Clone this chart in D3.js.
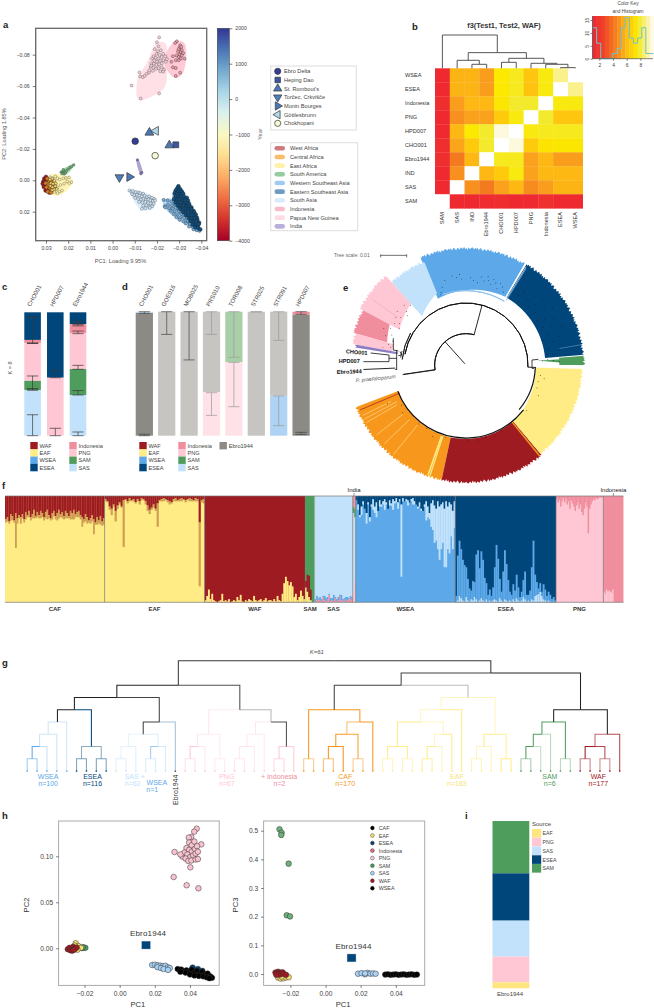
<!DOCTYPE html>
<html lang="en">
<head>
<meta charset="UTF-8">
<title>Ebro1944 population genomics</title>
<script src="https://d3js.org/d3.v7.min.js"></script>
<style>
  body { margin: 0; background: #fff; }
  svg { display: block; }
  text { font-family: "Liberation Sans", Arial, sans-serif; fill: #333; }
  .tick text { fill: #444; }
  .letter { font-weight: bold; font-size: 9.5px; fill: #222; }
</style>
</head>
<body>
<div id="chart"></div>
<script>
// palette
const WAF = "#9e1b22", CAF = "#f7981d", EAF = "#ffec85", SAM = "#4f9d5d", WSEA = "#5ca8e8",
      ESEA = "#00467a", SAS = "#c2e2fb", PNG = "#ffc6d3", INDO = "#f08e9e", IND = "#8e7cc3", EBRO = "#8c8a84", KK = "#222";

// ---- panel a data: [PC1, PC2]
const aPNG = [[-.021,-.091],[-.020,-.088],[-.0207,-.0853],[-.0086,-.0604],[-.0127,-.0521],[-.021,-.0553],[-.0121,-.0687],[-.0124,-.0662],[-.0136,-.0657],[-.0145,-.0666],[-.0154,-.0679],[-.0165,-.0687],[-.019,-.0835],[-.0205,-.0822],[-.0218,-.0828],[-.0198,-.0805],[-.0212,-.0798],[-.0228,-.0805],[-.0185,-.079],[-.0195,-.078],[-.0207,-.0775],[-.0222,-.0785],[-.0238,-.079],[-.0245,-.0772],[-.0178,-.0775],[-.0188,-.0762],[-.02,-.0755],[-.0214,-.076],[-.0228,-.0765],[-.024,-.0755],[-.0175,-.0745],[-.0186,-.0742],[-.0198,-.0735],[-.021,-.074],[-.0222,-.0745],[-.0172,-.0722],[-.0185,-.0718],[-.0197,-.071],[-.0208,-.0715],[-.0222,-.072],[-.0232,-.0705],[-.0165,-.07],[-.0182,-.0697],[-.0215,-.0695],[-.0228,-.0692],[-.0175,-.073]];
const aIndo = [[-.029,-.0885],[-.0282,-.0875],[-.0305,-.086],[-.0302,-.0845],[-.031,-.085],[-.0298,-.0835],[-.0312,-.083],[-.0305,-.0815],[-.0295,-.082],[-.0318,-.081],[-.0302,-.08],[-.0312,-.0795],[-.0325,-.0775],[-.0298,-.0785],[-.0288,-.0795],[-.0272,-.079],[-.0308,-.0775],[-.0285,-.0765],[-.0298,-.0765],[-.0285,-.0715],[-.0272,-.072],[-.0305,-.0685],[-.0285,-.0665],[-.0265,-.0755]];
const aSAS = [[-.0076,.0065],[-.0085,.0072],[-.0092,.0068],[-.0105,.0075],[-.0118,.0078],[-.0125,.0082],[-.0138,.0085],[-.0088,.0088],[-.0098,.0095],[-.011,.0092],[-.012,.0098],[-.0132,.0102],[-.0145,.0098],[-.0155,.0108],[-.0165,.0102],[-.0178,.0112],[-.0188,.0118],[-.0102,.0112],[-.0115,.0118],[-.0128,.0122],[-.014,.0118],[-.015,.0125],[-.0162,.0122],[-.0172,.0128],[-.0182,.0132],[-.0192,.0128],[-.012,.0138],[-.0135,.0142],[-.0148,.0138],[-.016,.0145],[-.0172,.0148],[-.0185,.015],[-.0138,.0162],[-.0152,.016],[-.0165,.0168],[-.0178,.0165],[-.0132,.0182],[-.0148,.0178],[-.0168,.0175]];
const aWSEA = [[-.023,.0125],[-.0248,.0128],[-.0265,.0135],[-.0235,.0165],[-.025,.0155],[-.0268,.016],[-.0285,.0148],[-.0238,.0172],[-.0255,.0178],[-.027,.018],[-.0285,.0175],[-.0262,.0195],[-.028,.02],[-.0298,.0195],[-.0275,.0215],[-.0292,.022],[-.031,.0215],[-.0288,.0235],[-.0305,.024],[-.0322,.0238],[-.0302,.0252],[-.032,.0262],[-.0338,.0258],[-.033,.0275],[-.0348,.0278],[-.0345,.0295],[-.0362,.0298],[-.038,.0318],[-.0392,.0322],[-.0365,.0312]];
const aESEA = [[-.0297,.0038],[-.0292,.0052],[-.0305,.0058],[-.0285,.0065],[-.0298,.007],[-.0312,.0072],[-.028,.0082],[-.0292,.0085],[-.0305,.0088],[-.0318,.0085],[-.0285,.0102],[-.0298,.0105],[-.031,.0102],[-.0322,.0108],[-.0335,.0112],[-.0278,.012],[-.029,.0125],[-.0302,.012],[-.0315,.0128],[-.0328,.0125],[-.034,.013],[-.0285,.0142],[-.0298,.0145],[-.031,.0142],[-.0322,.0148],[-.0335,.0145],[-.0345,.015],[-.0295,.0162],[-.0308,.0165],[-.032,.016],[-.0332,.0168],[-.0345,.0165],[-.0355,.0172],[-.0305,.0182],[-.0318,.0185],[-.033,.018],[-.0342,.0188],[-.0355,.0185],[-.0365,.0195],[-.0318,.0202],[-.033,.0205],[-.0342,.02],[-.0355,.0208],[-.0368,.0205],[-.0375,.0218],[-.0332,.0222],[-.0345,.0225],[-.0358,.022],[-.037,.0228],[-.038,.0238],[-.0345,.0242],[-.0358,.0245],[-.037,.0242],[-.0382,.025],[-.0352,.026],[-.0365,.0265],[-.0378,.026],[-.039,.027],[-.0362,.0282],[-.0375,.0285],[-.0388,.028],[-.0372,.0298],[-.0385,.0302],[-.0395,.0312]];
const aEAF = [[.0282,-.002],[.027,-.001],[.0258,-.0025],[.0248,-.0012],[.0238,-.0005],[.0222,-.0012],[.021,-.0015],[.0196,-.0018],[.0186,.0012],[.0205,.0008],[.0218,.0022],[.0195,.0018],[.0235,.003],[.0248,.0045],[.026,.0042],[.0272,.0058],[.0238,.0072],[.0248,.0082],[.0228,.0065],[.0262,.0075]];
const aCAF = [[.0295,-.001],[.0285,.0008],[.0302,.0018],[.0288,.0032],[.0275,.0012],[.0298,.0045],[.0282,.0052],[.0268,.0035],[.0275,.0062],[.0262,.005],[.0292,.0072],[.0278,.0078]];
const aWAF = [[.0308,-.001],[.0312,.0008],[.03,-.0022],[.0308,.0028],[.0315,.0022],[.03,.0048],[.031,.0042],[.0302,.0065],[.0295,.0058],[.0285,.0078],[.0305,.0012],[.0296,-.0005]];
const aYel = [[.0282,-.0005],[.0272,-.0012],[.0262,.0004],[.0278,.0018],[.0268,.0022],[.0256,.002],[.028,.0036],[.027,.0044],[.0258,.0038],[.0272,.0062],[.0262,.0058],[.0252,.0055]];
const aSAMp = [[.0232,-.0052],[.0222,-.0058],[.0215,-.0052],[.0228,-.0042],[.0218,-.004],[.0208,-.0062],[.0222,-.0068],[.02,-.0072],[.0192,-.0082],[.0185,-.0088],[.0175,-.0098],[.0212,-.0048]];
const aIndia = [[-.0112,-.013],[-.0132,-.005],[-.0127,-.0042]];
const aHulls = [
  { c: PNG, o: .55, p: [[-.0117,-.0513],[-.0112,-.064],[-.0154,-.0747],[-.0199,-.0874],[-.0237,-.0874],[-.0244,-.0726],[-.0237,-.0598],[-.0192,-.0545]] },
  { c: PNG, o: .95, p: [[-.0237,-.0789],[-.0282,-.0885],[-.0323,-.0874],[-.0332,-.0779],[-.0312,-.0672],[-.0282,-.0651],[-.0241,-.0715]] },
  { c: SAS, o: .6, p: [[-.0076,.0062],[-.0192,.0115],[-.0184,.0179],[-.0132,.0189],[-.0086,.0104]] },
  { c: "#a9d2f5", o: .9, p: [[-.0229,.0126],[-.0289,.0126],[-.038,.0296],[-.035,.0296],[-.0237,.0179]] },
  { c: "#3f7fb0", o: .7, p: [[-.0297,.003],[-.0335,.0104],[-.0395,.0296],[-.038,.0328],[-.0327,.0253],[-.0271,.0147],[-.0277,.0062]] },
  { c: EAF, o: .6, p: [[.0282,-.0034],[.0184,-.0013],[.018,.0019],[.0237,.0094],[.0282,.0083]] },
  { c: "#a5d6ab", o: .9, p: [[.0232,-.0062],[.0174,-.0102],[.0174,-.0091],[.0214,-.0034]] },
  { c: IND, o: .7, p: [[-.0108,-.0135],[-.0116,-.0135],[-.0135,-.004],[-.0125,-.004]] }
];
const aSamples = ["Ebro Delta","Heping Dao","St. Rombout's","Torčec, Crkvišče","Monin Bourges","Göttlesbrunn","Chokhopani"];
const aSampleXY = [[[-.0102,-.0249]],[[-.0285,-.0226]],[[-.0166,-.0304],[-.0256,-.0223]],[[-.0031,-.0019]],[[-.0076,-.0021]],[[-.0195,-.0315]],[[-.0192,-.0157]]];
const aSampleYear = [1944,1700,1350,1300,1350,150,-800];
const aSampleSym = ["circle","square","up","down","right","left","circle"];
const aRegions = ["West Africa","Central Africa","East Africa","South America","Western Southeast Asia","Eastern Southeast Asia","South Asia","Indonesia","Papua New Guinea","India"];
const aRegionCol = ["#cf7a80","#fbbd6c","#fff2a8","#97cca0","#a0cbf1","#6e9cc0","#d9ecfc","#f9bcc8","#ffdbe4","#baaedb"];

// ---- panel b data
const bCols = ["SAM","SAS","IND","Ebro1944","CHO001","HPD007","PNG","Indonesia","ESEA","WSEA"];
const bRows = ["WSEA","ESEA","Indonesia","PNG","HPD007","CHO001","Ebro1944","IND","SAS","SAM"];
const bVals = [
  [1.3,5.7,5.7,5.2,7.5,7.7,6.3,7.6,8.8,null],
  [1.3,5.7,5.7,5.2,7.5,7.7,6.2,7.6,null,8.8],
  [1.5,5.2,5.8,5.8,7.4,7.8,7.8,null,7.6,7.6],
  [1.3,4.8,5.3,5.3,6.5,7.6,null,7.8,6.3,6.3],
  [1.3,5.8,7.5,7.8,9.6,null,7.6,7.7,7.7,7.7],
  [1.5,5.4,6.5,7.8,null,9.6,6.5,7.3,7.4,7.4],
  [1.5,4.2,5.8,null,7.7,7.7,5.3,5.8,5.2,5.2],
  [1.3,4.8,null,5.8,6.5,7.6,5.3,5.8,5.8,5.8],
  [1.3,null,4.8,4.2,5.3,5.8,4.7,5.2,5.7,5.7],
  [null,1.2,1.2,1.4,1.5,1.3,1.3,1.6,1.3,1.3]
];
const bTree = [100,0,[47,[24,1,[12,2,3]],[30,[18,4,5],[15,6,[12,7,[2,8,9]]]]]];
const keyBreaks = [1,1.6,2.2,2.8,3.4,4,4.6,5.2,5.8,6.4,7,7.6,8.2,8.8,9.4,9.9];
const keyHist = [[1,12],[1.6,6],[2.2,0],[3.8,0],[3.9,2],[4.6,4],[5.2,12],[5.8,16],[6.4,8],[7,6],[7.6,8],[8.2,12],[8.8,2],[9.9,2]];

// ---- panels c, d data: fractions from top of the bar
const cBars = ["CHO001","HPD007","Ebro1944"];
const cSegs = [
  [[ESEA,.224],[INDO,.027],[PNG,.305],[SAM,.076],[SAS,.368]],
  [[ESEA,.53],[PNG,.47]],
  [[ESEA,.095],[INDO,.073],[PNG,.292],[SAM,.21],[SAS,.33]]
];
const cErr = [
  [[.04,.25],[.25,.253],[.516,.62],[.62,.632],[.83,1]],
  [[.47,.53],[.94,1]],
  [[.073,.095],[.095,.11],[.152,.173],[.43,.462],[.634,.67],[.97,1]]
];
const dBars = ["CHO001","GOE016","MOB025","PRS010","TOR008","STR025","STR091","HPD007"];
const dSegs = [
  [[SAS,.01],[EBRO,.99]],
  [["#c6c5c2",1]],
  [["#c6c5c2",1]],
  [["#c6c5c2",.648],["#ffe1e8",.352]],
  [["#a9cfa9",.406],["#ffe1e8",.594]],
  [["#c6c5c2",1]],
  [["#c6c5c2",.678],["#aed3f4",.322]],
  [[INDO,.024],[EBRO,.976]]
];
const dErr = [
  [[0,.013],[.988,1]],
  [[0,.183]],
  [[0,.389]],
  [[0,.183],[.653,.836]],
  [[0,.368],[.409,.766]],
  [[0,.002]],
  [[0,.231],[.679,.919]],
  [[0,.021],[.973,.99]]
];
const cLeg = [["WAF",WAF],["EAF",EAF],["WSEA",WSEA],["ESEA",ESEA]];
const cLeg2 = [["Indonesia",INDO],["PNG",PNG],["SAM",SAM],["SAS",SAS]];

// ---- panel e data: angles clockwise from top, radii in tree units
const eWedges = [
  { c: CAF, a: [192,249], i: [222,218], o: 352 },
  { c: WAF, a: [140,192], i: [220,222], o: 352 },
  { c: EAF, a: [92,140], i: [208,220], o: 348 },
  { c: SAM, a: [85.5,90], i: [280,280], o: 354 },
  { c: SAM, a: [86.5,88.5], i: [212,280], o: 282 },
  { c: ESEA, a: [31,85], i: [236,238], o: 352 },
  { c: WSEA, a: [-23,30], i: [216,236], o: 350 },
  { c: SAS, a: [-42,-22], i: [197,232], o: 334 },
  { c: PNG, a: [-62,-42], i: [226,247], o: 360 },
  { c: INDO, a: [-74,-62], i: [246,259], o: 350 },
  { c: PNG, a: [-79.5,-74], i: [226,226], o: 345 },
  { c: IND, a: [-81,-79.5], i: [208,208], o: 335 }
];
const eJag = [3,-4,5,-1,6,-6,2,7,-3,-7,4,0,-5,6,1,-2,8,-5,3,-8,5,-3,0,6];
const eStreaks = [
  { c: "#ffd98c", a: 244, r: [250,345] },{ c: "#ffd98c", a: 242, r: [235,345] },{ c: "#ffd98c", a: 240, r: [240,345] },
  { c: "#ffd98c", a: 232, r: [240,340] },{ c: "#ffd98c", a: 226, r: [235,340] },{ c: "#ffd98c", a: 219, r: [230,345] },
  { c: EAF, a: 199, r: [225,350], w: 1.6 },{ c: EAF, a: 198, r: [225,355], w: 1.2 },
  { c: WAF, a: 247, r: [215,345] },
  { c: CAF, a: 141, r: [220,352], w: 1.4 },{ c: "#c45a25", a: 140.5, r: [220,342] },
  { c: "#5b8db3", a: 80, r: [285,352] },{ c: "#fff", a: 31.5, r: [226,345] },{ c: WSEA, a: 32, r: [228,340] },
  { c: "#f4a7b5", a: -55, r: [250,345] }
];
const eDots = [
  [-14,262],[-9,270],[-6,264],[-3,258],[-4,272],[3,262],[5,255],[8,249],[10,268],[12,258],[14,274],[15,262],[17,252],[18,270],[20,262],[22,248],[23,266],[25,258],[27,246],[-17,244],[-19,230],[-20,224],
  [34,240],[37,262],[39,280],[40,248],[43,268],[45,292],[47,256],[49,276],[50,300],[52,242],[53,262],[55,286],[57,310],[58,250],[60,272],[62,296],[64,256],[66,282],[68,308],[70,264],[72,240],[73,290],[75,270],[77,306],[79,252],[81,284],[83,262],[84,300],
  [88,280],[87,262],[86,246],[87,230],[98,225],[100,238],[103,222],[108,224],[113,236],[127,228],
  [152,224],[158,230],[165,225],[171,232],[178,228],[186,222],[196,226],[205,236],[212,224],[219,228],[233,238],[238,228],[244,262],
  [-43,245],[-46,258],[-48,240],[-50,230],[-52,262],[-54,242],[-56,254],[-58,235],[-60,248],[-61,228],[-64,252],[-66,270],[-68,240],[-70,256],[-72,232],[-75,240],[-77,232],[-78,255]
];
const eArcs = [[94,-99,15,1],[186,-80,92,1],[192,-85,-60,.8],[208,92,130,1.2],[219,128,249,1.2]];
const eRadials = [[-42,5,95],[15,93,186],[-98.5,93,190],[92,186,210],[-92.5,213,308]];
const eLines = [[122,384,177,390],[100,410,177,410],[177,390,177,410],[177,400,200,400],[200,375,200,435],[195,433,200,433],[190,340,190,375],[190,375,205,378],[210,380,215,390],[215,390,205,392],[212,398,216,378],[606,405,606,430],[606,430,612,430],[606,405,625,403]];

// ---- panel f data: depth of each layer per individual, as a fraction of the bar
const fBounds = [12,250,489,729,752,843,850,1088,1329,1442,1490];
const fCafRed = [.22,.2,.24,.17,.19,.23,.16,.21,.18,.2,.17,.22,.15,.18,.14,.2,.17,.13,.19,.15,.18,.14,.16,.2,.15,.13,.18,.21,.16,.14,.19,.16,.13,.17,.15,.19,.14,.16,.19,.14,.16,.13,.17,.15,.14,.18,.2,.22,.17,.2,.23,.21,.18,.22,.25,.2,.23,.19,.24,.21];
const fCafTan = [.03,.04,.02,.06,.04,.02,.33,.05,.03,.06,.04,.03,.07,.02,.06,.03,.04,.08,.02,.05,.03,.07,.04,.03,.06,.09,.03,.02,.06,.05,.03,.07,.08,.03,.06,.03,.07,.05,.02,.08,.06,.09,.03,.05,.06,.04,.09,.03,.07,.06,.02,.05,.06,.14,.02,.07,.03,.08,.04,.06];
const fEafRed = [.03,.05,.1,.12,.08,.14,.09,.06,.1,.04,.03,.05,.02,.04,.03,.06,.03,.05,.02,.03,.05,.09,.13,.11,.08,.12,.07,.04,.03,.02,.03,.04,.05,.06,.03,.02,.04,.03,.02,.03,.04,.03,.02,.03,.04,.02,.03,.25,.04,.03];
const fEafTan = [.02,.01,.03,.06,.02,.1,.03,.02,.01,.44,.01,.02,.03,.01,.02,.01,.02,.03,.02,.01,.03,.05,.04,.02,.03,.02,.22,.01,.02,.03,.01,.02,.03,.01,.02,.03,.01,.02,.03,.01,.02,.01,.03,.02,.01,.03,.02,.6,.02,.04];
const fWafYel = [.02,.06,.12,.03,.08,.02,.01,0,.01,.02,.08,.01,.02,.01,.03,0,.01,.02,.01,.05,.02,.07,.01,0,.02,.01,.03,.02,.01,.06,.02,.01,.02,.03,.01,.02,.04,.01,.02,.02,.01,.03,.01,.06,.02,.01,.08,.18,.24,.2,.16,.19,.15,.05,.08,.02,.05,.11,.06,.03];
const fSamYel = [.14,.1,.05,.02,0,0];
const fSamRed = [.06,.16,.2,.1,0,0];
const fSasPink = [.01,.02,.03,.02,.01,.05,.02,.01,.03,.07,.01,.02,.01,.04,.01,.02,.06,.02,.01,.03,.01,.02,.03,.04,.02];
const fSasBlue = [.02,.04,.01,.03,.02,.01,.04,.03,.02,.01,.03,.02,.06,.01,.02,.03,.01,.05,.02,.01,.04,.03,.01,.02,.03];
const fWseaNavy = [.04,.08,.18,.1,.05,.12,.16,.06,.2,.08,.03,.1,.06,.14,.04,.08,.05,.03,.06,.12,.04,.07,.03,.05,.02,.06,.03,.08,.02,.05,.03,.04,.06,.03,.02,.05,.08,.1,.06,.12,.14,.08,.05,.1,.16,.07,.04,.09,.12,.05,.1,.08,.06,.12,.05,.1,.06,.08,.14,.05];
const fWseaLite = [0,.05,.02,.08,.03,0,.1,.02,.04,.02,.1,.06,.14,0,.06,.02,.03,.1,.02,0,.05,.02,.1,.02,.04,.06,.02,.68,.03,0,.02,.05,0,.02,.06,.03,0,.02,.04,.02,0,.02,.18,.1,.06,.22,.28,.35,.3,.45,.5,.42,.38,.55,.62,.4,.48,.3,.36,.25];
const fEseaBlue = [.05,.42,.52,.46,.38,.34,.28,.2,.12,.08,.18,.14,.42,.48,.3,.44,.38,.22,.15,.06,.1,.05,.12,.3,.52,.4,.18,.08,.28,.46,.34,.2,.08,.06,.14,.1,.22,.12,.04,.08,.16,.26,.06,.05,.1,.3,.56,.2,.12,.05,.08,.04,.14,.1,.05,.08,.06,.03,.04,.02];
const fEseaLite = [.01,.02,.06,.04,.02,.01,.05,.02,.01,.03,.02,.05,.03,.01,.02,.04,.02,.01,.03,.01,.02,.01,.02,.03,.02,.01,.04,.02,.01,.03,.02,.01,.02,.01,.03,.01,.04,.02,.01,.02,.05,.03,.01,.02,.01,.03,.02,.06,.07,.08,.1,.06,.03,.02,.01,.02,.01,0,.01,0];
const fPngTop = [.03,.06,.04,.1,.05,.02,.06,.03,.08,.05,.12,.04,.07,.1,.14,.09,.06,.12,.08,.15,.18,.12,.06,.1,.35,.12,.08,.05,.03,.04,.02,.03,.02,.01,.02,.01];
const fIndoLow = [.1,.08,.12,.1,.11,.1,.09,.12,0,0,0,0,0,0,0,0];

// ---- panel g data: [level, stem colour, stem opacity, left, right, leaf stem colour, leaf stem opacity]; leaves are indices
const gTree = [9,KK,0,
  [7,KK,.9,
    [6,KK,1,
      [5,KK,1,
        [4,KK,1,[3,WSEA,.3,[2,WSEA,.3,[1,WSEA,1,0,1,WSEA,.6],2,WSEA,.35],3,WSEA,.3],4,WSEA,.3],
        [2,ESEA,1,[1,ESEA,.45,5,6,ESEA,.5],[1,ESEA,.45,7,8,ESEA,.5]]],
      [4,KK,.85,
        [3,KK,.85,[2,SAS,.4,[1,SAS,.45,9,10,SAS,.5],11,SAS,.5],[2,SAS,.6,[1,WSEA,.6,12,13,SAS,.6],14,SAS,.7]],
        15,"#8fb0cc",.8]],
    [5,KK,.8,
      [3,PNG,.4,[2,PNG,.4,[1,PNG,1,16,17,PNG,.5],18,PNG,.4],[1,PNG,.35,19,20,PNG,.35]],
      [4,"#999",.7,[3,PNG,.4,[2,PNG,.4,[1,PNG,.4,21,22,PNG,.4],23,PNG,.4],24,PNG,.4],[2,KK,.8,[1,PNG,1,25,26,PNG,.7],27,PNG,.9]]]],
  [8,KK,.9,
    [7,KK,.85,
      [5,KK,.85,[1,CAF,1,28,29,CAF,.5],[4,CAF,1,[3,CAF,.65,[2,CAF,1,[1,CAF,1,30,31,CAF,.6],32,CAF,1],[1,CAF,.9,33,34,CAF,.5]],35,CAF,1]],
      [6,"#aaa",.8,
        [5,EAF,.5,
          [4,EAF,.5,[2,EAF,.95,[1,EAF,.95,36,37,EAF,.5],[1,EAF,.95,38,39,EAF,.5]],[3,EAF,.5,[2,EAF,.5,[1,EAF,1,40,41,EAF,.8],42,EAF,.5],43,EAF,.95]],
          44,EAF,.95],
        [3,EAF,.5,[2,EAF,.95,[1,EAF,.55,45,46,EAF,.55],47,EAF,.55],[1,EAF,.85,48,49,EAF,.95]]]],
    [5,KK,1,
      [4,KK,1,[3,SAM,1,[2,SAM,1,[1,SAM,1,50,51,SAM,.5],52,SAM,.35],53,SAM,.4],[1,SAM,1,54,55,SAM,.4]],
      [3,KK,1,[2,WAF,.65,[1,WAF,1,56,57,WAF,.55],[1,WAF,.8,58,59,WAF,.5]],60,WAF,.8]]]];
const gLabels = [
  ["WSEA",115,410,WSEA],["n=100",115,430,WSEA],["ESEA",221,410,ESEA],["n=116",221,430,ESEA],
  ["SAS +",322,410,SAS],["n=62",317,430,SAS],["WSEA",375,428,WSEA],["n=1",364,449,WSEA],
  ["PNG",542,410,PNG],["n=67",542,430,PNG],["+ Indonesia",667,410,INDO],["n=2",668,430,INDO],
  ["CAF",825,410,CAF],["n=170",825,430,CAF],["EAF",1092,410,"#f7e37a"],["n=183",1092,430,"#f7e37a"],
  ["SAM",1314,410,SAM],["n=6",1314,430,SAM],["WAF",1430,410,WAF],["n=177",1430,430,WAF]
];

// ---- panel h data: [PC1, PC2 or PC3]
const hPNG = [[.0438,.130],[.0424,.1268],[.0407,.121],[.0393,.1203],[.0464,.113],[.0312,.1047],[.0357,.0996],[.0307,.0775],[.0381,.0685],[.0448,.0652],[.0402,.088],[.0395,.115],[.041,.112],[.0425,.116],[.038,.109],[.0395,.107],[.041,.105],[.0428,.108],[.044,.111],[.0368,.104],[.0385,.102],[.04,.099],[.0418,.101],[.0432,.103],[.0445,.105],[.0375,.0975],[.039,.095],[.0408,.0955],[.0432,.0965],[.0445,.097],[.0345,.102]];
const hWSEA = [[.033,-.0225],[.035,-.023],[.0365,-.025],[.038,-.024],[.0395,-.0255],[.041,-.023],[.0425,-.0265],[.044,-.0245],[.0455,-.027],[.047,-.0255],[.0485,-.0285],[.05,-.0275],[.0515,-.0305],[.0525,-.032],[.0375,-.0265],[.04,-.0285],[.0425,-.0295],[.045,-.03],[.0475,-.0305],[.0495,-.0315],[.051,-.0325],[.0345,-.0255]];
const hESEA = [[.0415,-.021],[.0445,-.0225],[.047,-.0245]];
const hSAS = [[.0185,-.0182],[.02,-.0178],[.0215,-.0185],[.023,-.0188],[.0245,-.0195],[.026,-.019],[.0275,-.0208],[.0285,-.0215],[.0215,-.0205],[.0235,-.0215],[.025,-.0225],[.0275,-.0235]];
const hWAF = [[-.0295,-.001],[-.0285,.0005],[-.0275,-.0012],[-.0265,.0015],[-.0255,-.0005],[-.028,-.0022],[-.027,-.0025],[-.0245,.0008],[-.0262,-.0018]];
const hEAFp = [[-.025,.0055],[-.0235,.0025],[-.022,.0005],[-.0255,.003],[-.024,-.0015]];
const hSAMp = [[-.0205,.0008],[-.0215,.0002],[-.0195,.0005],[-.021,.0012]];
const p3SAM = [[-.0262,.505],[-.025,.493],[-.0252,.485],[-.021,.385],[-.0221,.205],[-.0202,.201]];
const p3SAS = [[.0185,.001],[.0205,.003],[.0225,-.001],[.024,.004],[.0255,.001],[.027,.002],[.0285,.001],[.0225,.002]];
const p3WSEA = [[.034,-.002],[.0355,-.001],[.037,-.003],[.0385,-.002],[.04,-.001],[.0415,-.003],[.043,-.002],[.0445,-.001],[.046,-.003],[.0475,-.002],[.049,-.001],[.0505,-.003],[.052,-.002]];
const p3WAF = [[-.0285,.005],[-.027,.008],[-.0255,.004],[-.0245,.006],[-.0275,.001],[-.026,-.002],[-.024,.001],[-.0225,-.003],[-.028,-.003]];
const p3EAF = [[-.027,-.012],[-.0255,-.016],[-.024,-.015],[-.0225,-.012],[-.021,-.011],[-.025,-.009]];
const hLegend = [["CAF","#000"],["EAF","#f5df72"],["ESEA",ESEA],["Indonesia","#e46a7c"],["PNG",PNG],["SAM",SAM],["SAS","#a9d2f5"],["WAF",WAF],["WSEA","#000"]];

// ---- panel i data
const iSegs = [["SAM",SAM,157],["ESEA",ESEA,142],["SAS",SAS,108],["PNG",PNG,77],["EAF","#ffe580",18]];
const iLegend = [["EAF","#ffe580"],["PNG",PNG],["SAS",SAS],["ESEA",ESEA],["SAM",SAM]];

const svg = d3.select("#chart").append("svg").attr("width", 654).attr("height", 1008);

function label(g, x, y, s, size, opts) {
  opts = opts || {};
  const t = g.append("text").attr("x", x).attr("y", y).text(s).style("font-size", size + "px");
  if (opts.anchor) t.attr("text-anchor", opts.anchor);
  if (opts.fill) t.style("fill", opts.fill);
  if (opts.weight) t.style("font-weight", opts.weight);
  if (opts.style) t.style("font-style", opts.style);
  if (opts.rotate !== undefined) t.attr("transform", "rotate(" + opts.rotate + " " + x + " " + y + ")");
  return t;
}
function styleAxis(g, size, col, tick) {
  g.selectAll("text").style("font-size", size + "px");
  g.selectAll("line").attr("stroke", col || "#444").attr("stroke-width", tick || .7);
  g.select(".domain").remove();
}
[["a",3,28],["b",412,30],["c",2,290],["d",122,290],["e",343,291],["f",2,489],["g",2,666],["h",2,819],["i",465,819]]
  .forEach(d => svg.append("text").attr("class", "letter").attr("x", d[1]).attr("y", d[2]).text(d[0]));

// ===== panel a =====
const ax = d3.scaleLinear().domain([.03,-.04]).range([46,201.3]);
const ay = d3.scaleLinear().domain([-.08,.02]).range([54.7,211.7]);
const pa = svg.append("g");
const hullLine = d3.line().x(d => ax(d[0])).y(d => ay(d[1])).curve(d3.curveCatmullRomClosed.alpha(.5));
aHulls.forEach(h => pa.append("path").attr("d", hullLine(h.p)).attr("fill", h.c).attr("opacity", h.o));
function aPts(pts, fill, r, so) {
  pa.append("g").selectAll("circle").data(pts).enter().append("circle")
    .attr("cx", d => ax(d[0])).attr("cy", d => ay(d[1])).attr("r", r)
    .attr("fill", fill).attr("stroke", "#222").attr("stroke-opacity", so).attr("stroke-width", .5);
}
aPts(aPNG, "#f3cfd8", 1.5, .55);
aPts(aIndo, "#ee9dab", 1.5, .7);
aPts(aSAS, "#cfe4f5", 1.5, .55);
aPts(aWSEA, "#74aede", 1.6, .7);
aPts(aESEA, "#0d4f80", 1.9, .85);
aPts(aEAF, "#fff2a8", 1.4, .55);
aPts(aWAF, "#9e1b22", 1.9, .75);
aPts(aCAF, "#d87b1c", 1.9, .75);
aPts(aYel, "#f3d566", 1.5, .75);
aPts(aSAMp, "#71b07c", 1.3, .55);
aPts(aIndia, "#8e7cc3", 1.2, .6);

const yearCol = d3.scaleSequential(d3.interpolateRdYlBu).domain([-4000,2000]);
const symPath = { circle: d3.symbolCircle, square: d3.symbolSquare, up: d3.symbolTriangle, down: d3.symbolTriangle, right: d3.symbolTriangle, left: d3.symbolTriangle };
const symRot = { circle: 0, square: 0, up: 0, down: 180, right: 90, left: 270 };
function marker(g, x, y, i, size) {
  const k = aSampleSym[i];
  g.append("path").attr("d", d3.symbol().type(symPath[k]).size(size)())
    .attr("transform", "translate(" + x + "," + y + ") rotate(" + symRot[k] + ")")
    .attr("fill", yearCol(aSampleYear[i])).attr("stroke", "#333").attr("stroke-width", .7);
}
aSampleXY.forEach((pts, i) => pts.forEach(p => marker(pa, ax(p[0]), ay(p[1]), i, 34)));
pa.append("rect").attr("x", 35.7).attr("y", 28.3).attr("width", 171).attr("height", 212.4)
  .attr("fill", "none").attr("stroke", "#666").attr("stroke-width", 1.3);
const axA = pa.append("g").attr("transform", "translate(0,240.7)")
  .call(d3.axisBottom(ax).tickValues([.03,.02,.01,0,-.01,-.02,-.03,-.04]).tickFormat(d3.format(".2f")).tickSize(3));
styleAxis(axA, 5.2);
const ayA = pa.append("g").attr("transform", "translate(35.7,0)")
  .call(d3.axisLeft(ay).tickValues([-.08,-.06,-.04,-.02,0,.02]).tickFormat(d3.format(".2f")).tickSize(3));
styleAxis(ayA, 5.2);
label(pa, 120.5, 263, "PC1: Loading 9.95%", 5.6, { anchor: "middle", fill: "#555" });
label(pa, 6, 134, "PC2: Loading 1.85%", 5.6, { anchor: "middle", fill: "#555", rotate: -90 });

// colour bar
const yearScale = d3.scaleLinear().domain([-4000,2000]).range([240.7,28.3]);
const grad = svg.append("defs").append("linearGradient").attr("id", "yearGrad").attr("x1", 0).attr("x2", 0).attr("y1", 1).attr("y2", 0);
d3.range(0, 1.01, .1).forEach(t => grad.append("stop").attr("offset", t).attr("stop-color", yearCol(-4000 + 6000 * t)));
pa.append("rect").attr("x", 217.3).attr("y", 28.3).attr("width", 12).attr("height", 212.4).attr("fill", "url(#yearGrad)").attr("stroke", "#444").attr("stroke-width", .6);
const cbAx = pa.append("g").attr("transform", "translate(229.3,0)")
  .call(d3.axisRight(yearScale).tickValues([2000,1000,0,-1000,-2000,-3000,-4000]).tickFormat(d3.format("d")).tickSize(3));
styleAxis(cbAx, 5.2);
label(pa, 262, 134, "Year", 5.6, { anchor: "middle", fill: "#666", rotate: -90 });

// legends
pa.append("rect").attr("x", 270.7).attr("y", 66).attr("width", 85.5).attr("height", 64).attr("fill", "#fff").attr("stroke", "#ddd").attr("stroke-width", 1);
aSamples.forEach((s, i) => {
  const y = 71.3 + i * 8.67;
  marker(pa, 277.7, y, i, 30);
  label(pa, 284, y + 2, s, 5.6, { fill: "#444" });
});
pa.append("rect").attr("x", 270.7).attr("y", 142.7).attr("width", 87).attr("height", 88).attr("fill", "#fff").attr("stroke", "#ddd").attr("stroke-width", 1);
aRegions.forEach((s, i) => {
  const y = 148.3 + i * 8.67;
  pa.append("rect").attr("x", 274.5).attr("y", y - 2.3).attr("width", 10.5).attr("height", 4.6).attr("rx", 2.3).attr("fill", aRegionCol[i]);
  label(pa, 290, y + 2, s, 5.6, { fill: "#444" });
});

// ===== panel b =====
const pb = svg.append("g");
const heat = d3.scaleLinear().domain([1,2.5,4.2,5.3,5.8,6.5,7.5,7.8,8.8,9.6])
  .range(["#ee2531","#f0402a","#f47a20","#faa21c","#fdb813","#fecb0c","#fbe900","#f3ea2d","#faf08c","#fdf9dc"]);
const bx = d3.scaleBand().domain(bCols).range([435,582.7]);
const by = d3.scaleBand().domain(bRows).range([68.3,208.3]);
bVals.forEach((row, ri) => row.forEach((v, ci) => {
  pb.append("rect").attr("x", bx(bCols[ci])).attr("y", by(bRows[ri]))
    .attr("width", bx.bandwidth() + .3).attr("height", by.bandwidth() + .3)
    .attr("fill", v === null ? "#fff" : heat(v));
}));
bRows.forEach(r => label(pb, 405, by(r) + by.bandwidth() / 2 + 1.8, r, 5.6, { fill: "#333" }));
bCols.forEach(c => label(pb, bx(c) + bx.bandwidth() / 2 + 1.8, 212, c, 5.6, { anchor: "end", fill: "#333", rotate: -90 }));
label(pb, 504, 28, "f3(Test1, Test2, WAF)", 7.4, { anchor: "middle", weight: "bold", fill: "#333" });
const bh = d3.scaleLinear().domain([0,100]).range([68.3,35]);
function bDendro(node) {
  if (typeof node === "number") return { x: bx(bCols[node]) + bx.bandwidth() / 2, h: 0 };
  const l = bDendro(node[1]), r = bDendro(node[2]);
  pb.append("path").attr("fill", "none").attr("stroke", "#444").attr("stroke-width", .9)
    .attr("d", "M" + l.x + "," + bh(l.h) + "V" + bh(node[0]) + "H" + r.x + "V" + bh(r.h));
  return { x: (l.x + r.x) / 2, h: node[0] };
}
bDendro(bTree);
// colour key
const kx = d3.scaleLinear().domain([1,9.8]).range([592.5,652.7]);
const ky = d3.scaleLinear().domain([0,15]).range([58.7,20]);
for (let i = 0; i < keyBreaks.length - 1; i++) {
  pb.append("rect").attr("x", kx(keyBreaks[i])).attr("y", 16).attr("width", kx(keyBreaks[i + 1]) - kx(keyBreaks[i]) + .3).attr("height", 42.7).attr("fill", heat((keyBreaks[i] + keyBreaks[i + 1]) / 2));
}
pb.append("path").attr("fill", "none").attr("stroke", "#6fc3cf").attr("stroke-width", 1)
  .attr("d", d3.line().x(d => kx(d[0])).y(d => ky(d[1])).curve(d3.curveStepAfter)(keyHist));
pb.append("path").attr("fill", "none").attr("stroke", "#333").attr("stroke-width", .6).attr("d", "M592.5,16V58.7H653");
const kxA = pb.append("g").attr("transform", "translate(0,58.7)").call(d3.axisBottom(kx).tickValues([2,4,6,8]).tickSize(2));
styleAxis(kxA, 5);
const kyA = pb.append("g").attr("transform", "translate(592.5,0)").call(d3.axisLeft(ky).tickValues([0,5,10,15]).tickSize(2));
styleAxis(kyA, 5);
kyA.selectAll("text").attr("transform", "rotate(-90)").attr("x", 0).attr("y", -4).attr("dy", 0).style("text-anchor", "middle");
label(pb, 628, 5, "Color Key", 4.8, { anchor: "middle", fill: "#444" });
label(pb, 628, 12.5, "and Histogram", 4.8, { anchor: "middle", fill: "#444" });

// ===== panels c and d =====
const pc = svg.append("g");
function stackBars(names, segs, errs, band, sy, errCol) {
  names.forEach((n, i) => {
    let acc = 0;
    segs[i].forEach(s => {
      pc.append("rect").attr("x", band(n)).attr("y", sy(acc)).attr("width", band.bandwidth()).attr("height", sy(acc + s[1]) - sy(acc)).attr("fill", s[0]);
      acc += s[1];
    });
    const cx = band(n) + band.bandwidth() / 2;
    errs[i].forEach(e => {
      pc.append("path").attr("fill", "none").attr("stroke", errCol(i)).attr("stroke-width", .7)
        .attr("d", "M" + (cx - 5.6) + "," + sy(e[0]) + "H" + (cx + 5.6) + "M" + cx + "," + sy(e[0]) + "V" + sy(e[1]) + "M" + (cx - 5.6) + "," + sy(e[1]) + "H" + (cx + 5.6));
    });
    label(pc, cx - 2, 307, n, 6, { fill: "#444", rotate: -62 });
  });
}
const cBand = d3.scaleBand().domain(cBars).range([24.3,86.3]).paddingInner(.27);
const cy = d3.scaleLinear().domain([0,1]).range([312.3,435.7]);
stackBars(cBars, cSegs, cErr, cBand, cy, () => "#3a3a3a");
const dBand = d3.scaleBand().domain(dBars).range([135.7,309.7]).paddingInner(.23);
const dy = d3.scaleLinear().domain([0,1]).range([311.7,435.7]);
stackBars(dBars, dSegs, dErr, dBand, dy, i => (i === 0 || i === 7 || i === 2 || i === 1) ? "#444" : "#9a9a9a");
label(pc, 12, 368, "K = 8", 5.6, { anchor: "middle", fill: "#555", rotate: -90 });
function swatchCol(g, items, x, y0, step, size) {
  items.forEach((d, i) => {
    g.append("rect").attr("x", x).attr("y", y0 + i * step).attr("width", 7.4).attr("height", 7.4).attr("fill", d[1]);
    label(g, x + 9.2, y0 + i * step + 5.8, d[0], size, { fill: "#444" });
  });
}
swatchCol(pc, cLeg, 30.3, 442, 7.3, 5.6);
swatchCol(pc, cLeg2, 69.3, 442, 7.3, 5.6);
swatchCol(pc, cLeg, 139.3, 442, 7.3, 5.6);
swatchCol(pc, cLeg2, 178.3, 442, 7.3, 5.6);
swatchCol(pc, [["Ebro1944",EBRO]], 219.5, 442, 7.3, 5.6);

// ===== panel e =====
const pe = svg.append("g").attr("transform", "translate(466,365)");
const er = d3.scaleLinear().domain([0,360]).range([0,120]);
const rad = d3.scaleLinear().domain([0,180]).range([0,Math.PI]);
const wedge = d3.areaRadial().angle(d => rad(d.a)).innerRadius(d => er(d.i)).outerRadius(d => er(d.o));
eWedges.forEach(w => {
  const steps = Math.max(2, Math.round((w.a[1] - w.a[0]) / .55));
  const pts = d3.range(steps + 1).map(k => {
    const t = k / steps;
    return { a: w.a[0] + (w.a[1] - w.a[0]) * t, i: w.i[0] + (w.i[1] - w.i[0]) * t, o: w.o + eJag[k % eJag.length] * .6 };
  });
  pe.append("path").attr("d", wedge(pts)).attr("fill", w.c);
});
eStreaks.forEach(s => pe.append("path").attr("d", d3.lineRadial().angle(d => rad(s.a)).radius(d => er(d))(s.r)).attr("stroke", s.c).attr("stroke-width", s.w || .7).attr("fill", "none"));
pe.append("path").attr("d", d3.arc()({ innerRadius: er(223), outerRadius: er(223), startAngle: rad(-18), endAngle: rad(31) })).attr("stroke", "#8cc2f0").attr("stroke-width", 1).attr("fill", "none");
eDots.forEach(d => pe.append("circle").attr("cx", er(d[1]) * Math.sin(rad(d[0]))).attr("cy", -er(d[1]) * Math.cos(rad(d[0]))).attr("r", .45).attr("fill", "#111"));
eArcs.forEach(a => pe.append("path").attr("d", d3.arc()({ innerRadius: er(a[0]), outerRadius: er(a[0]), startAngle: rad(a[1]), endAngle: rad(a[2]) })).attr("stroke", "#111").attr("stroke-width", a[3]).attr("fill", "none"));
eRadials.forEach(r => pe.append("path").attr("d", d3.lineRadial().angle(() => rad(r[0])).radius(d => er(d))([r[1], r[2]])).attr("stroke", "#111").attr("stroke-width", .9).attr("fill", "none"));
const pe2 = svg.append("g").attr("transform", "translate(330,225)");
const z3 = d3.scaleLinear().domain([0,3]).range([0,1]);
eLines.forEach(l => pe2.append("line").attr("x1", z3(l[0])).attr("y1", z3(l[1])).attr("x2", z3(l[2])).attr("y2", z3(l[3])).attr("stroke", "#111").attr("stroke-width", .8));
label(pe2, z3(47), z3(385), "CHO001", 5.6, { weight: "bold", fill: "#111", rotate: 4 });
label(pe2, z3(26), z3(414), "HPD007", 5.6, { weight: "bold", fill: "#111" });
label(pe2, z3(20), z3(447), "Ebro1944", 5.6, { weight: "bold", fill: "#111", rotate: -2 });
label(pe2, z3(78), z3(472), "P. praefalciparum", 5.2, { style: "italic", fill: "#555", rotate: -6 });
pe2.append("line").attr("x1", z3(218)).attr("y1", z3(449)).attr("x2", z3(315)).attr("y2", z3(435)).attr("stroke", "#111").attr("stroke-width", .8);
label(pe2, z3(12), z3(95), "Tree scale: 0.01", 5, { fill: "#666" });
pe2.append("path").attr("d", "M" + z3(152) + "," + z3(88) + "v3M" + z3(152) + "," + z3(91) + "H" + z3(230) + "M" + z3(230) + "," + z3(88) + "v3").attr("stroke", "#333").attr("stroke-width", .7).attr("fill", "none");

// ===== panel f =====
const pf = svg.append("g");
const fz = d3.scaleLinear().domain([0,1563]).range([0,654]);
const fy = d3.scaleLinear().domain([0,1]).range([496,602.3]);
function structure(x0, x1, base, tops, bottoms) {
  pf.append("rect").attr("x", fz(x0)).attr("y", fy(0)).attr("width", fz(x1) - fz(x0)).attr("height", fy(1) - fy(0)).attr("fill", base);
  const n = d3.max(tops.concat(bottoms), l => l.v.length) || 1;
  const band = d3.scaleBand().domain(d3.range(n)).range([fz(x0), fz(x1)]);
  d3.range(n).forEach(k => {
    let acc = 0;
    tops.forEach(l => {
      const v = l.v[k] || 0;
      if (v > 0) pf.append("rect").attr("x", band(k)).attr("y", fy(acc)).attr("width", band.bandwidth() + .2).attr("height", fy(acc + v) - fy(acc)).attr("fill", l.c);
      acc += v;
    });
    acc = 0;
    bottoms.forEach(l => {
      const v = l.v[k] || 0;
      if (v > 0) pf.append("rect").attr("x", band(k)).attr("y", fy(1 - acc - v)).attr("width", band.bandwidth() + .2).attr("height", fy(acc + v) - fy(acc)).attr("fill", l.c);
      acc += v;
    });
  });
}
const TAN = "#cf9f55";
structure(fBounds[0], fBounds[1], EAF, [{ c: WAF, v: fCafRed }, { c: TAN, v: fCafTan }], []);
structure(fBounds[1], fBounds[2], EAF, [{ c: WAF, v: fEafRed }, { c: TAN, v: fEafTan }], []);
structure(fBounds[2], fBounds[3], WAF, [], [{ c: EAF, v: fWafYel }]);
structure(fBounds[3], fBounds[4], SAM, [], [{ c: EAF, v: fSamYel }, { c: WAF, v: fSamRed }]);
structure(fBounds[4], fBounds[5], SAS, [], [{ c: INDO, v: fSasPink }, { c: WSEA, v: fSasBlue }]);
structure(fBounds[5], fBounds[6], SAS, [{ c: INDO, v: [.1,.12] }, { c: SAM, v: [.06,.08] }], [{ c: PNG, v: [.1,.2] }]);
structure(fBounds[6], fBounds[7], WSEA, [{ c: ESEA, v: fWseaNavy }, { c: SAS, v: fWseaLite }], []);
structure(fBounds[7], fBounds[8], ESEA, [], [{ c: SAS, v: fEseaLite }, { c: WSEA, v: fEseaBlue }]);
structure(fBounds[8], fBounds[9], PNG, [{ c: INDO, v: fPngTop }], []);
structure(fBounds[9], fBounds[10], INDO, [], [{ c: PNG, v: fIndoLow }]);
fBounds.forEach((b, i) => { if (i > 0 && i < fBounds.length - 1) pf.append("line").attr("x1", fz(b)).attr("x2", fz(b)).attr("y1", fy(0)).attr("y2", fy(1)).attr("stroke", "#777").attr("stroke-width", i === 3 || i === 4 ? .3 : .7); });
pf.append("path").attr("d", "M" + fz(12) + "," + fy(0) + "H" + fz(1490) + "M" + fz(12) + "," + fy(1) + "H" + fz(1490)).attr("stroke", "#777").attr("stroke-width", .7).attr("fill", "none");
[["CAF",131],["EAF",369],["WAF",609],["SAM",741],["SAS",797],["WSEA",969],["ESEA",1209],["PNG",1385]]
  .forEach(d => label(pf, fz(d[1]), 610.5, d[0], 6, { anchor: "middle", weight: "bold", fill: "#333" }));
label(pf, fz(846), 491.8, "India", 6, { anchor: "middle", fill: "#222" });
label(pf, fz(1466), 491.8, "Indonesia", 6, { anchor: "middle", fill: "#222" });
pf.append("path").attr("d", "M" + fz(846) + ",493V496M" + fz(1466) + ",493V496").attr("stroke", "#555").attr("stroke-width", .6);

// ===== panel g =====
const pg = svg.append("g");
const gx = d3.scaleLinear().domain([0,60]).range([27.2,619.7]);
const gy = d3.scaleLinear().domain([0,9]).range([771,660.7]);
function gLeafCol(i) {
  if (i < 5) return WSEA;
  if (i < 9) return ESEA;
  if (i < 15) return SAS;
  if (i < 28) return PNG;
  if (i < 36) return CAF;
  if (i < 50) return EAF;
  if (i < 56) return SAM;
  return WAF;
}
function gDendro(node) {
  const kids = [node[3], node[4]].map(k => {
    if (typeof k === "number") {
      pg.append("circle").attr("cx", gx(k)).attr("cy", gy(0)).attr("r", .85).attr("fill", k === 15 ? "#222" : gLeafCol(k));
      return { x: gx(k), l: 0, c: node[5] || gLeafCol(k), o: node[6] === undefined ? .5 : node[6] };
    }
    return gDendro(k);
  });
  const mid = (kids[0].x + kids[1].x) / 2;
  kids.forEach(k => pg.append("path").attr("fill", "none").attr("stroke", k.c).attr("stroke-opacity", k.o).attr("stroke-width", 1.05)
    .attr("d", "M" + k.x + "," + gy(k.l) + "V" + gy(node[0]) + "H" + mid));
  return { x: mid, l: node[0], c: node[1], o: node[2] };
}
gDendro(gTree);
gLabels.forEach(d => label(pg, fz(d[1]), 640 + d[2] / 3 + 2.3, d[0], 7, { anchor: "middle", fill: d[3] }));
label(pg, 178, 805, "Ebro1944", 7, { fill: "#333", rotate: -90 });
label(pg, fz(757), 654, "K=61", 6, { anchor: "middle", style: "italic", fill: "#555" });

// ===== panel h =====
const ph = svg.append("g");
const hx1 = d3.scaleLinear().domain([-.02,.04]).range([84.5,190]);
const hy1 = d3.scaleLinear().domain([0,.1]).range([948.3,856.3]);
const hx2 = d3.scaleLinear().domain([-.02,.04]).range([290.4,395.8]);
const hy2 = d3.scaleLinear().domain([0,.5]).range([974,830.7]);
function hPts(pts, sx, sy, fill) {
  ph.append("g").selectAll("circle").data(pts).enter().append("circle")
    .attr("cx", d => sx(d[0])).attr("cy", d => sy(d[1])).attr("r", 2.8)
    .attr("fill", fill).attr("stroke", "#333").attr("stroke-width", .5);
}
function hFrame(x0, x1, sx, sy, yt, yfmt, yl, lx) {
  ph.append("rect").attr("x", x0).attr("y", 821).attr("width", x1 - x0).attr("height", 164.4).attr("fill", "none").attr("stroke", "#aaa").attr("stroke-width", 1);
  const xa = ph.append("g").attr("transform", "translate(0,985.4)").call(d3.axisBottom(sx).tickValues([-.02,0,.02,.04]).tickFormat(d3.format(".2f")).tickSize(2.5));
  styleAxis(xa, 6.6);
  const ya = ph.append("g").attr("transform", "translate(" + x0 + ",0)").call(d3.axisLeft(sy).tickValues(yt).tickFormat(d3.format(yfmt)).tickSize(2.5));
  styleAxis(ya, 6.6);
  label(ph, (x0 + x1) / 2 - 1, 1006.5, "PC1", 7.6, { anchor: "middle", fill: "#333" });
  label(ph, lx, 905, yl, 7.6, { anchor: "middle", fill: "#333", rotate: -90 });
}
hPts(hPNG, hx1, hy1, "#f8c2cf");
hPts(hSAMp, hx1, hy1, SAM);
hPts(hEAFp, hx1, hy1, "#f5df72");
hPts(hWAF, hx1, hy1, WAF);
hPts(hSAS, hx1, hy1, "#a9d2f5");
hPts(hESEA, hx1, hy1, ESEA);
hPts(hWSEA, hx1, hy1, "#000");
hFrame(58.6, 219.2, hx1, hy1, [0,.05,.1], ".2f", "PC2", 29);
hPts(p3SAM, hx2, hy2, "#6cb07a");
hPts(p3SAS, hx2, hy2, "#a9d2f5");
hPts(p3WSEA, hx2, hy2, "#000");
hPts(p3EAF, hx2, hy2, "#f5df72");
hPts(p3WAF, hx2, hy2, WAF);
hFrame(263.6, 424.7, hx2, hy2, [0,.1,.2,.3,.4,.5], ".1f", "PC3", 238);
function ebro(sx, sy, x, y) {
  ph.append("rect").attr("x", sx(x) - 4.5).attr("y", sy(y) - 4).attr("width", 9).attr("height", 8).attr("fill", ESEA).attr("stroke", "#ddd").attr("stroke-width", .4);
  label(ph, sx(x) + 2, sy(y) - 9, "Ebro1944", 8, { anchor: "middle", fill: "#333" }).style("letter-spacing", ".2px");
}
ebro(hx1, hy1, .015, .0035);
ebro(hx2, hy2, .0148, .056);
hLegend.forEach((d, i) => {
  const y = 805 + (69 + i * 22.6) / 3;
  ph.append("circle").attr("cx", fz(890)).attr("cy", y).attr("r", 1.9).attr("fill", d[1]).attr("stroke", "#222").attr("stroke-width", .4);
  label(ph, fz(905), y + 2, d[0], 5.4, { fill: "#444" });
});

// ===== panel i =====
const pi = svg.append("g");
const iy = d3.scaleLinear().domain([0,d3.sum(iSegs, d => d[2])]).range([821,988.3]);
let iAcc = 0;
iSegs.forEach(s => {
  pi.append("rect").attr("x", 492.5).attr("y", iy(iAcc)).attr("width", 36.8).attr("height", iy(iAcc + s[2]) - iy(iAcc)).attr("fill", s[1]);
  iAcc += s[2];
});
label(pi, 510, 996, "Ebro1944", 6, { anchor: "middle", fill: "#444" });
label(pi, 532, 826, "Source", 6, { fill: "#444" });
iLegend.forEach((d, i) => {
  const y = 805 + 85 / 3 + i * 8.75;
  pi.append("rect").attr("x", 532).attr("y", y - 4.3).attr("width", 9.2).attr("height", 8.6).attr("fill", d[1]);
  label(pi, 542.5, y + 2, d[0], 5.2, { fill: "#444" });
});
</script>
</body>
</html>
